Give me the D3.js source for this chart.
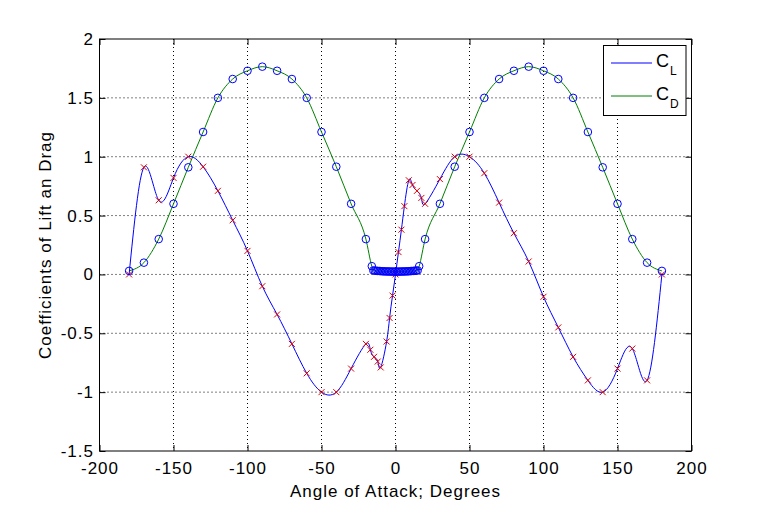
<!DOCTYPE html>
<html>
<head>
<meta charset="utf-8">
<script src="https://cdn.jsdelivr.net/npm/d3@7"></script>
<style>
  body { margin: 0; background: #fff; }
  text { font-family: "Liberation Sans", Arial, sans-serif; }
</style>
</head>
<body>
<div id="chart"></div>
<script>
// lift coefficient samples (red x markers)
const clAlpha = [-180, -170, -160, -150, -140, -130, -120, -110, -100, -90, -80, -70, -60, -50, -40, -30,
  -20, -17, -14.5, -12, -10, -6, -4, -2, 0, 2, 4, 6, 9, 11.5, 14.5, 17.5, 20,
  30, 40, 50, 60, 70, 80, 90, 100, 110, 120, 130, 140, 150, 160, 170, 180];
const clValues = [0.0, 0.91, 0.63, 0.82, 1.0, 0.915, 0.71, 0.46, 0.20, -0.10, -0.34, -0.59, -0.84, -1.0, -1.0, -0.80,
  -0.59, -0.64, -0.70, -0.74, -0.79, -0.57, -0.37, -0.18, 0.0, 0.19, 0.38, 0.58, 0.80, 0.76, 0.71, 0.65, 0.60,
  0.81, 1.0, 1.0, 0.86, 0.61, 0.35, 0.11, -0.19, -0.45, -0.70, -0.90, -1.0, -0.80, -0.63, -0.90, 0.0];

// drag coefficient samples (blue o markers)
const cdAlpha = [-180, -170, -160, -150, -140, -130, -120, -110, -100, -90, -80, -70, -60, -50, -40, -30, -20, -16,
  -15, -14, -13, -12, -11, -10, -9, -8, -7, -6, -5, -4, -3, -2, -1, 0, 1, 2, 3, 4, 5, 6, 7, 8, 9, 10, 11, 12, 13, 14, 15,
  16, 20, 30, 40, 50, 60, 70, 80, 90, 100, 110, 120, 130, 140, 150, 160, 170, 180];
const cdValues = [0.03, 0.10, 0.30, 0.60, 0.91, 1.21, 1.50, 1.66, 1.73, 1.765, 1.73, 1.66, 1.50, 1.21, 0.915, 0.60, 0.30, 0.07,
  0.034, 0.032, 0.031, 0.030, 0.029, 0.028, 0.027, 0.026, 0.026, 0.025, 0.025, 0.025, 0.024, 0.024, 0.024, 0.024, 0.024, 0.024, 0.024, 0.025, 0.025, 0.025, 0.026, 0.026, 0.027, 0.028, 0.029, 0.030, 0.031, 0.032, 0.034,
  0.07, 0.30, 0.60, 0.915, 1.21, 1.50, 1.66, 1.73, 1.765, 1.73, 1.66, 1.50, 1.21, 0.91, 0.60, 0.30, 0.10, 0.03];

const xTicks = [-200, -150, -100, -50, 0, 50, 100, 150, 200];
const yTicks = [-1.5, -1, -0.5, 0, 0.5, 1, 1.5, 2];
const seriesNames = ["L", "D"];

const width = 765, height = 507;
const margin = { left: 99.5, right: 73.5, top: 39, bottom: 56 };
const iwidth = width - margin.left - margin.right;
const iheight = height - margin.top - margin.bottom;

const svg = d3.select("#chart").append("svg")
  .attr("width", width)
  .attr("height", height);

svg.append("rect").attr("width", width).attr("height", height).attr("fill", "#fff");

const g = svg.append("g")
  .attr("transform", `translate(${margin.left},${margin.top})`);

const x = d3.scaleLinear().domain([-200, 200]).range([0, iwidth]);
const y = d3.scaleLinear().domain([-1.5, 2]).range([iheight, 0]);

// dotted grid
g.append("g").selectAll("line").data(xTicks.slice(1, -1)).enter().append("line")
  .attr("x1", (d) => x(d)).attr("x2", (d) => x(d))
  .attr("y1", 0).attr("y2", iheight)
  .attr("stroke", "#000").attr("stroke-width", 1).attr("stroke-dasharray", "1,3");
g.append("g").selectAll("line").data(yTicks.slice(1, -1)).enter().append("line")
  .attr("y1", (d) => y(d)).attr("y2", (d) => y(d))
  .attr("x1", 0).attr("x2", iwidth)
  .attr("stroke", "#000").attr("stroke-width", 1).attr("stroke-dasharray", "1,3");

// axes with inward ticks on all four sides
const fmt = (d) => String(d);
const xAxis = g.append("g").attr("transform", `translate(0,${iheight})`)
  .call(d3.axisBottom(x).tickValues(xTicks).tickSize(-6).tickPadding(11).tickFormat(fmt));
const xTop = g.append("g")
  .call(d3.axisTop(x).tickValues(xTicks).tickSize(-6).tickFormat(""));
const yAxis = g.append("g")
  .call(d3.axisLeft(y).tickValues(yTicks).tickSize(-6).tickPadding(5.5).tickFormat(fmt));
const yRight = g.append("g").attr("transform", `translate(${iwidth},0)`)
  .call(d3.axisRight(y).tickValues(yTicks).tickSize(-6).tickFormat(""));

[xAxis, xTop, yAxis, yRight].forEach((a) => {
  a.select(".domain").remove();
  a.selectAll("line").attr("stroke", "#000");
  a.selectAll("text").attr("font-size", 17).attr("fill", "#000")
    .attr("letter-spacing", 1)
    .style("font-family", "'Liberation Sans', Arial, sans-serif");
});

g.append("rect").attr("width", iwidth).attr("height", iheight)
  .attr("fill", "none").attr("stroke", "#000").attr("stroke-width", 1);

const clData = clAlpha.map((a, i) => ({ a: a, v: clValues[i] }));
const cdData = cdAlpha.map((a, i) => ({ a: a, v: cdValues[i] }));

const clLine = d3.line().x((d) => x(d.a)).y((d) => y(d.v)).curve(d3.curveNatural);
const cdLine = d3.line().x((d) => x(d.a)).y((d) => y(d.v)).curve(d3.curveMonotoneX);

g.append("path").datum(cdData).attr("d", cdLine)
  .attr("fill", "none").attr("stroke", "#007f00").attr("stroke-width", 1);
g.append("path").datum(clData).attr("d", clLine)
  .attr("fill", "none").attr("stroke", "#0000ff").attr("stroke-width", 1);

// markers
g.append("g").selectAll("path").data(clData).enter().append("path")
  .attr("d", (d) => {
    const cx = x(d.a), cy = y(d.v), s = 3;
    return `M${cx - s},${cy - s}L${cx + s},${cy + s}M${cx - s},${cy + s}L${cx + s},${cy - s}`;
  })
  .attr("stroke", "#e00000").attr("stroke-width", 1).attr("fill", "none");

g.append("g").selectAll("circle").data(cdData).enter().append("circle")
  .attr("cx", (d) => x(d.a)).attr("cy", (d) => y(d.v)).attr("r", 3.8)
  .attr("fill", "none").attr("stroke", "#0000ff").attr("stroke-width", 1);

// labels
svg.append("text")
  .attr("x", margin.left + iwidth / 2).attr("y", 497)
  .attr("text-anchor", "middle").attr("font-size", 17).attr("letter-spacing", 1)
  .text("Angle of Attack; Degrees");

svg.append("text")
  .attr("transform", `translate(51,${margin.top + iheight / 2}) rotate(-90)`)
  .attr("text-anchor", "middle").attr("font-size", 17).attr("letter-spacing", 1)
  .text("Coefficients of Lift an Drag");

// legend
const legend = svg.append("g");
legend.append("rect")
  .attr("x", 603.5).attr("y", 45.5).attr("width", 82.5).attr("height", 70)
  .attr("fill", "#fff").attr("stroke", "#000").attr("stroke-width", 1);
const legendColors = ["#0000ff", "#007f00"];
seriesNames.forEach((name, i) => {
  const ly = 63 + i * 33;
  legend.append("line")
    .attr("x1", 611).attr("x2", 652).attr("y1", ly).attr("y2", ly)
    .attr("stroke", legendColors[i]).attr("stroke-width", 1);
  const t = legend.append("text").attr("x", 656).attr("y", ly + 4).attr("font-size", 18);
  t.append("tspan").text("C");
  t.append("tspan").attr("font-size", 12).attr("dy", 8).attr("dx", 1).text(name);
});
</script>
</body>
</html>
